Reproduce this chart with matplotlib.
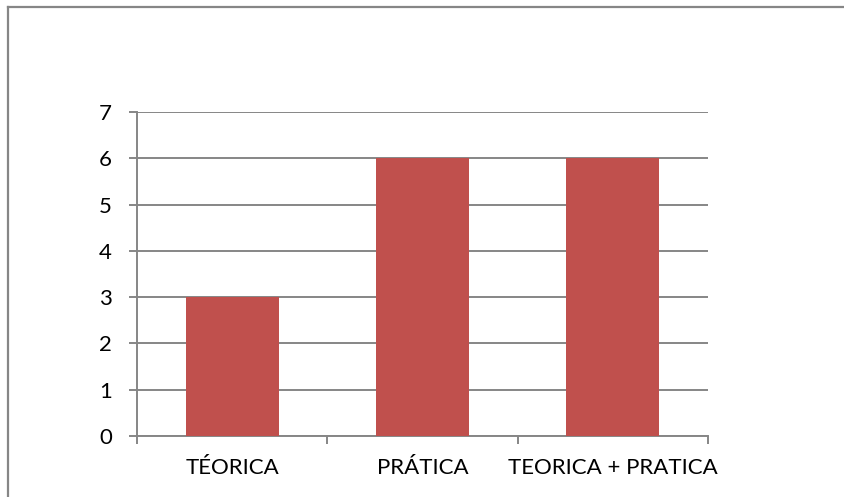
import matplotlib
matplotlib.use("Agg")
import matplotlib.pyplot as plt
from matplotlib.lines import Line2D

# ── data ──────────────────────────────────────────────────────────────
categories = ["TÉORICA", "PRÁTICA", "TEORICA + PRATICA"]
values = [3, 6, 6]
y_ticks = [0, 1, 2, 3, 4, 5, 6, 7]

BAR = "#C0504D"
GRID = "#868686"
W, H = 845, 497

plt.rcParams["font.family"] = ["Lato", "DejaVu Sans"]

fig = plt.figure(figsize=(W / 100, H / 100), dpi=100)
ax = fig.add_axes([137 / W, 1 - 436 / H, (708 - 137) / W, (436 - 112) / H])

x = list(range(len(categories)))
ax.bar(x, values, width=0.49, color=BAR, zorder=3)

ax.set_xlim(-0.5, len(categories) - 0.5)
ax.set_ylim(0, 7)
ax.set_yticks(y_ticks)
ax.yaxis.grid(True, color=GRID, linewidth=1.4, zorder=0)
ax.set_axisbelow(True)

# category labels centered, tick marks at category boundaries
ax.set_xticks(x)
ax.set_xticklabels(categories)
ax.set_xticks([i - 0.5 for i in range(len(categories) + 1)], minor=True)
ax.tick_params(axis="x", which="major", length=0, pad=16, labelsize=16)
ax.tick_params(axis="x", which="minor", length=6, width=1.4, color=GRID, direction="out")
ax.tick_params(axis="y", length=6, width=1.4, color=GRID, pad=12, labelsize=16)

for side in ["top", "right"]:
    ax.spines[side].set_visible(False)
for side in ["left", "bottom"]:
    ax.spines[side].set_color(GRID)
    ax.spines[side].set_linewidth(1.4)

# outer chart border (left and top only visible)
fig.add_artist(Line2D([8.5 / W, 8.5 / W], [0, 1 - 6.5 / H], color=GRID, linewidth=1.6))
fig.add_artist(Line2D([8.5 / W, 1], [1 - 6.5 / H, 1 - 6.5 / H], color=GRID, linewidth=1.6))

fig.savefig("out.png", dpi=100)
